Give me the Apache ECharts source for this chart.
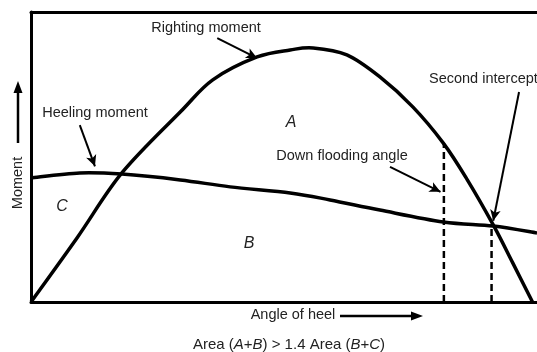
<!DOCTYPE html>
<html>
<head>
<meta charset="utf-8">
<script src="https://cdn.jsdelivr.net/npm/echarts@6/dist/echarts.min.js"></script>
<style>
  html, body { margin: 0; padding: 0; background: #fff; }
  #chart-container { width: 537px; height: 352px; }
</style>
</head>
<body>
<div id="chart-container"></div>
<script>
// angle of heel (deg) / moment (arbitrary units)
var righting = [[0, 0], [8.2, 22.1], [16.2, 44.5], [26.6, 65.5], [32.4, 76.6],
  [40.3, 84.5], [46.2, 86.9], [50.3, 87.6], [56.3, 85.2], [62.2, 77.6], [68.1, 67.2],
  [73.5, 54.8], [77.7, 42.4], [82.4, 26.6], [85.9, 13.4], [89.4, 0]];
var heeling = [[0, 42.8], [8.7, 44.5], [16.2, 44.1], [26.6, 42.1], [35.5, 39.7], [46.2, 37.6],
  [53.3, 35.2], [62.2, 31.7], [73.5, 27.6], [82.4, 26.2], [90.2, 23.8]];
var floodAngle = [[73.6, 0], [73.6, 54.8]];
var interceptAngle = [[82.1, 0], [82.1, 26.6]];

// label arrows, start -> end in data units
var arrows = [
  [[33.2, 91.0], [40.3, 84.1]],   // righting moment
  [[8.7, 61.0], [11.4, 46.8]],    // heeling moment
  [[64.0, 46.6], [73.0, 38.0]],   // down flooding angle
  [[87.0, 72.4], [82.4, 28.0]]    // second intercept
];

var font = 'Liberation Sans, Arial, Helvetica, sans-serif';
var txt = '#222';

var myChart = echarts.init(document.getElementById('chart-container'));

// smooth curve through all points (catmull-rom -> bezier), coords from the axes
function curve(points) {
  return function (params, api) {
    if (params.dataIndex !== 0) return;
    var p = points.map(function (d) { return api.coord(d); });
    var d = 'M' + p[0][0] + ' ' + p[0][1];
    for (var i = 0; i < p.length - 1; i++) {
      var p0 = p[Math.max(i - 1, 0)], p1 = p[i], p2 = p[i + 1], p3 = p[Math.min(i + 2, p.length - 1)];
      var c1x = p1[0] + (p2[0] - p0[0]) / 6, c1y = p1[1] + (p2[1] - p0[1]) / 6;
      var c2x = p2[0] - (p3[0] - p1[0]) / 6, c2y = p2[1] - (p3[1] - p1[1]) / 6;
      d += ' C' + c1x + ' ' + c1y + ' ' + c2x + ' ' + c2y + ' ' + p2[0] + ' ' + p2[1];
    }
    return {
      type: 'path',
      shape: { pathData: d },
      style: { fill: 'none', stroke: '#000', lineWidth: 3.5, lineJoin: 'round' }
    };
  };
}

function label(text, x, y, opt) {
  return Object.assign({
    type: 'text', x: x, y: y,
    style: { text: text, fill: txt, font: '14.5px ' + font, textAlign: 'center', textVerticalAlign: 'middle' }
  }, opt || {});
}
function italic(text, x, y) {
  return label(text, x, y, {
    style: { text: text, fill: txt, font: 'italic 16px ' + font, textAlign: 'center', textVerticalAlign: 'middle' }
  });
}

var frame = { show: true, lineStyle: { color: '#000', width: 3 } };

myChart.setOption({
  animation: false,
  backgroundColor: '#fff',
  grid: { left: 31, top: 12, right: 0, bottom: 50 },
  xAxis: [{
    type: 'value', min: 0, max: 90.2, position: 'bottom',
    axisLine: frame, axisTick: { show: false },
    axisLabel: { show: false }, splitLine: { show: false }
  }, {
    type: 'value', min: 0, max: 90.2, position: 'top',
    axisLine: frame, axisTick: { show: false },
    axisLabel: { show: false }, splitLine: { show: false }
  }],
  yAxis: {
    type: 'value', min: 0, max: 100,
    axisLine: frame, axisTick: { show: false },
    axisLabel: { show: false }, splitLine: { show: false }
  },
  series: [
    {
      name: 'Righting moment', type: 'custom', data: righting, renderItem: curve(righting),
      markLine: {
        silent: true, symbol: ['none', 'arrow'], symbolSize: [8, 11],
        label: { show: false },
        lineStyle: { color: '#000', width: 2, type: 'solid' },
        data: arrows.map(function (a) { return [{ coord: a[0] }, { coord: a[1] }]; })
      }
    },
    {
      name: 'Heeling moment', type: 'custom', data: heeling, renderItem: curve(heeling)
    },
    {
      type: 'line', data: floodAngle, showSymbol: false,
      lineStyle: { color: '#000', width: 2.5, type: [7, 4] }
    },
    {
      type: 'line', data: interceptAngle, showSymbol: false,
      lineStyle: { color: '#000', width: 2.5, type: [7, 4] }
    }
  ],
  graphic: [
    label('Righting moment', 206, 28),
    label('Heeling moment', 95, 113),
    label('Second intercept', 429, 79, {
      style: { text: 'Second intercept', fill: txt, font: '14.5px ' + font, textAlign: 'left', textVerticalAlign: 'middle' }
    }),
    label('Down flooding angle', 342, 156),
    italic('A', 291, 123),
    italic('B', 249, 244),
    italic('C', 62, 207),
    label('Moment', 18, 183, { rotation: Math.PI / 2 }),
    label('Angle of heel', 293, 315),
    {
      type: 'text', x: 289, y: 345,
      style: {
        text: 'Area ({i|A}+{i|B}) > 1.4 Area ({i|B}+{i|C})',
        fill: txt, font: '15px ' + font, textAlign: 'center', textVerticalAlign: 'middle',
        rich: { i: { fontStyle: 'italic', fontSize: 15, fontFamily: font, fill: txt } }
      }
    },
    // axis arrows
    { type: 'line', shape: { x1: 340, y1: 316, x2: 413, y2: 316 }, style: { stroke: '#000', lineWidth: 2.5 } },
    { type: 'polygon', shape: { points: [[423, 316], [411, 311.5], [411, 320.5]] }, style: { fill: '#000' } },
    { type: 'line', shape: { x1: 18, y1: 143, x2: 18, y2: 91 }, style: { stroke: '#000', lineWidth: 2.5 } },
    { type: 'polygon', shape: { points: [[18, 81], [13.5, 93], [22.5, 93]] }, style: { fill: '#000' } }
  ]
});
</script>
</body>
</html>
